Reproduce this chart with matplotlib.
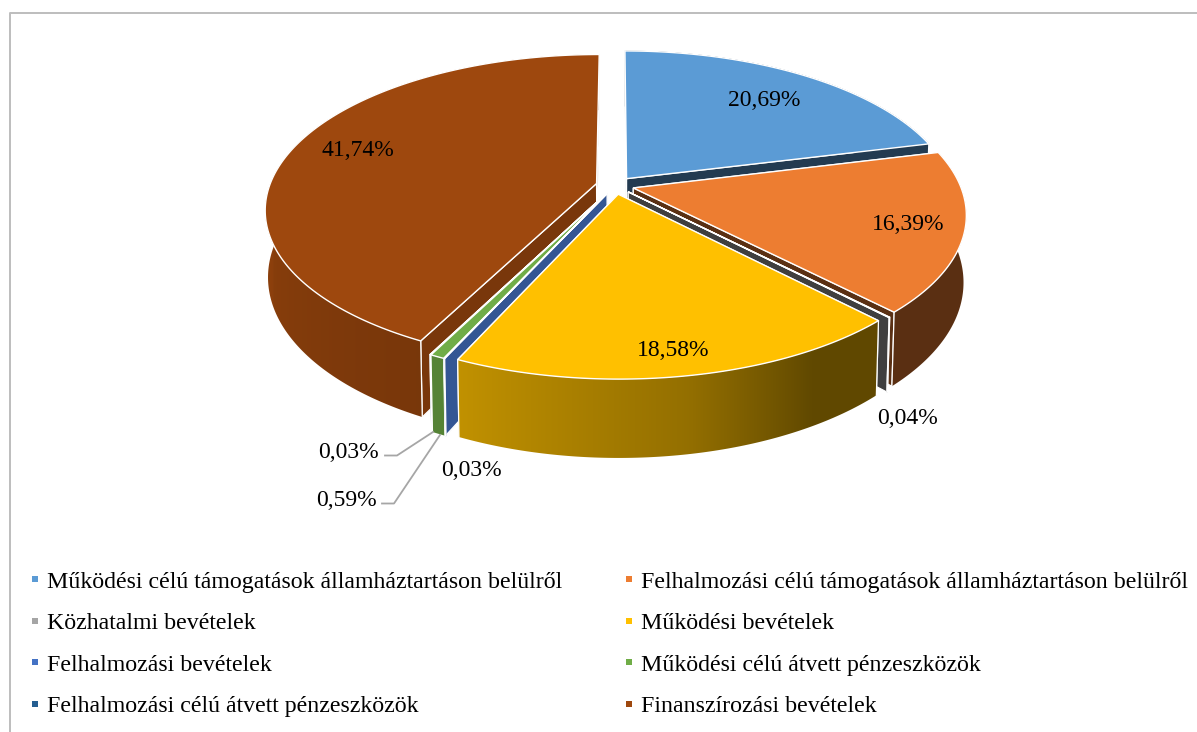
import numpy as np
import matplotlib
matplotlib.use("Agg")
import matplotlib.pyplot as plt
from matplotlib.patches import Polygon
from matplotlib.lines import Line2D
from matplotlib.colors import to_rgb

plt.rcParams['font.family'] = ['Liberation Serif', 'DejaVu Serif']

categories = ["Működési célú támogatások államháztartáson belülről",
              "Felhalmozási célú támogatások államháztartáson belülről",
              "Közhatalmi bevételek",
              "Működési bevételek",
              "Felhalmozási bevételek",
              "Működési célú átvett pénzeszközök",
              "Felhalmozási célú átvett pénzeszközök",
              "Finanszírozási bevételek"]
values = [20.69, 16.39, 0.04, 18.58, 0.03, 0.59, 0.03, 41.74]
colors = ["#5B9BD5", "#ED7D31", "#A5A5A5", "#FFC000",
          "#4472C4", "#70AD47", "#255E91", "#9E480E"]

# geometry of the projected pie, in pixels
CX, CY, A, B, K, H, EXPLODE, SHRINK = 615, 185.5, 327, 151, 0.166, 65, 0.058, 0.992
DRAW_ORDER = [0, 1, 2, 7, 6, 5, 4, 3]
LABEL_POS = [(764, 98), (908, 222), (908, 417), (673, 349),
             (471, 468), (346, 498), (348, 450), (358, 149)]
SHADE_T = [0, 136, 150, 170, 205, 270, 360]
SHADE_F = [0.38, 0.38, 0.38, 0.58, 0.76, 0.90, 0.90]

fig = plt.figure(figsize=(11.97, 7.32), dpi=100, facecolor='white')
ax = fig.add_axes([0, 0, 1, 1])
ax.axis('off')

ax.plot([10, 10, 1197], [732, 12.5, 12.5], color='#BDBDBD', lw=1.4, zorder=1)


def project(u, v, z=0.0):
    s = 1 / (1 - K * v)
    shrink = 1 - (1 - SHRINK) * z
    return CX + A * u * s * shrink, CY + B * v * s + H * z * s


def shade(col, theta):
    f = np.interp(np.mod(theta, 360), SHADE_T, SHADE_F)
    return tuple(c * f for c in to_rgb(col))


fractions = np.array(values) / np.sum(values)
edges = np.concatenate([[0], np.cumsum(fractions)]) * 360
z = 2
for i in DRAW_ORDER:
    t0, t1 = edges[i], edges[i + 1]
    mid = np.radians((t0 + t1) / 2)
    ou, ov = EXPLODE * np.sin(mid), -EXPLODE * np.cos(mid)
    th = np.linspace(t0, t1, max(3, int((t1 - t0) * 1.5)))
    ru = ou + np.sin(np.radians(th))
    rv = ov - np.cos(np.radians(th))
    tx, ty = project(ru, rv, 0)
    bx, by = project(ru, rv, 1)
    ax0, ay0 = project(ou, ov, 0)
    ax1, ay1 = project(ou, ov, 1)
    # radial walls
    for j, t in ((0, t0), (-1, t1)):
        ax.add_patch(Polygon([(ax0, ay0), (tx[j], ty[j]), (bx[j], by[j]), (ax1, ay1)],
                             closed=True, facecolor=shade(colors[i], t),
                             edgecolor='white', lw=0.9, zorder=z))
        z += 1
    # outer wall with a smooth gradient over its visible front part
    vis = (th >= 85) & (th <= 272)
    wall = Polygon(np.r_[np.column_stack([tx, ty]), np.column_stack([bx, by])[::-1]],
                   closed=True, transform=ax.transData)
    if vis.sum() >= 2 and np.ptp(tx[vis]) > 2:
        gx = np.linspace(min(tx.min(), bx.min()), max(tx.max(), bx.max()), 400)
        o = np.argsort(tx[vis])
        gt = np.interp(gx, tx[vis][o], th[vis][o])
        img = np.array([[shade(colors[i], t) for t in gt]])
        im = ax.imshow(img, extent=(gx[0], gx[-1], by.max() + 2, ty.min() - 2),
                       aspect='auto', interpolation='bilinear', zorder=z)
        im.set_clip_path(wall)
    else:
        c = shade(colors[i], (t0 + t1) / 2)
        ax.add_patch(Polygon(wall.get_xy(), closed=True, facecolor=c, edgecolor=c,
                             lw=0.4, zorder=z))
    z += 1
    ax.plot([tx[0], bx[0]], [ty[0], by[0]], color='white', lw=0.9, zorder=z)
    ax.plot([tx[-1], bx[-1]], [ty[-1], by[-1]], color='white', lw=0.9, zorder=z)
    z += 1
    # top face
    ax.add_patch(Polygon(np.column_stack([np.r_[ax0, tx], np.r_[ay0, ty]]), closed=True,
                         facecolor=colors[i], edgecolor='white', lw=1.0, zorder=z))
    z += 1

# leader lines
ax.plot([433, 397, 385], [432, 455.5, 455.5], color='#A6A6A6', lw=1.3, zorder=z)
ax.plot([440, 394, 382], [435, 503.5, 503.5], color='#A6A6A6', lw=1.3, zorder=z)

for v, (x, y) in zip(values, LABEL_POS):
    ax.text(x, y + 2, f"{v:.2f}%".replace('.', ','), ha='center', va='center',
            fontsize=17, color='black', zorder=z + 1)

ax.set_xlim(0, 1197)
ax.set_ylim(732, 0)

order = [0, 2, 4, 6, 1, 3, 5, 7]
handles = [Line2D([], [], ls='', marker='s', ms=4.8, mew=0, color=colors[i], label=categories[i])
           for i in order]
fig.legend(handles=handles, ncols=2, frameon=False, fontsize=17.2,
           loc='upper left', bbox_to_anchor=(0.0243, 0.22),
           bbox_transform=fig.transFigure, borderaxespad=0, borderpad=0,
           labelspacing=0.825, columnspacing=2.53, handlelength=0.5, handletextpad=0.25)

fig.savefig("out.png", dpi=100, facecolor='white')
